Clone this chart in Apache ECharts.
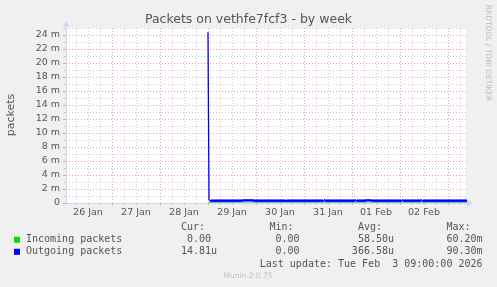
<!DOCTYPE html>
<html><head><meta charset="utf-8">
<script src="https://cdn.jsdelivr.net/npm/echarts@6/dist/echarts.min.js"></script>
<style>html,body{margin:0;padding:0;background:#F0F0F0;}#c{width:497px;height:287px;}</style>
</head><body><div id="c"></div>
<script>
// ---- data (hours measured from 26 Jan 00:00) ----
const titleText = 'Packets on vethfe7fcf3 - by week';
const yAxisName = 'packets';
const dayLabels = ['26 Jan', '27 Jan', '28 Jan', '29 Jan', '30 Jan', '31 Jan', '01 Feb', '02 Feb'];
const dayLabelHours = [12, 36, 60, 84, 108, 132, 156, 180];
const dayLineHours = [24, 48, 72, 96, 120, 144, 168, 192];
const minorLineHours = [6, 12, 18, 30, 36, 42, 54, 60, 66, 78, 84, 90, 102, 108, 114, 126, 132, 138, 150, 156, 162, 174, 180, 186, 198];
const yMajorTicks = [0, 2, 4, 6, 8, 10, 12, 14, 16, 18, 20, 22, 24];
const yMinorTicks = [1, 3, 5, 7, 9, 11, 13, 15, 17, 19, 21, 23, 25];
const xStartHour = 1;     // 26 Jan 01:00
const xEndHour = 201;     // 03 Feb 09:00
const yMax = 25;          // milli-packets
const sampleStartHour = 72;  // 29 Jan 00:00
const sampleStepHours = 0.5;

// values in milli packets/s
const outgoingValues = [24.4,
0.5,0.5,0.15,0.5,0.15,0.5,0.15,0.5,0.15,0.5,0.15,0.5,0.15,0.5,0.15,0.5,0.15,0.5,0.15,0.5,
0.15,0.5,0.15,0.5,0.15,0.5,0.15,0.5,0.15,0.5,0.15,0.5,0.15,0.5,0.2,0.55,0.2,0.55,0.2,0.55,
0.2,0.55,0.2,0.55,0.2,0.5,0.15,0.5,0.15,0.5,0.15,0.5,0.15,0.5,0.15,0.5,0.15,0.5,0.15,0.5,
0.15,0.5,0.15,0.5,0.15,0.5,0.15,0.5,0.15,0.5,0.15,0.5,0.15,0.5,0.15,0.5,0.15,0.45,0.15,0.5,
0.15,0.5,0.15,0.5,0.15,0.5,0.15,0.5,0.15,0.5,0.15,0.5,0.15,0.5,0.15,0.5,0.15,0.5,0.15,0.5,
0.15,0.5,0.15,0.5,0.15,0.5,0.15,0.5,0.15,0.5,0.15,0.5,0.15,0.5,0.15,0.15,0.5,0.15,0.5,0.15,
0.5,0.15,0.5,0.15,0.5,0.15,0.5,0.15,0.5,0.15,0.5,0.15,0.5,0.15,0.5,0.15,0.5,0.15,0.5,0.15,
0.5,0.15,0.5,0.15,0.5,0.15,0.5,0.5,0.15,0.5,0.15,0.5,0.15,0.5,0.15,0.5,0.15,0.55,0.2,0.55,
0.2,0.55,0.2,0.5,0.15,0.5,0.15,0.5,0.15,0.5,0.15,0.5,0.15,0.5,0.15,0.5,0.15,0.5,0.15,0.5,
0.15,0.5,0.15,0.5,0.15,0.5,0.15,0.5,0.15,0.5,0.15,0.5,0.15,0.15,0.5,0.15,0.5,0.15,0.5,0.15,
0.5,0.15,0.5,0.15,0.5,0.15,0.5,0.15,0.5,0.15,0.5,0.15,0.5,0.5,0.15,0.5,0.15,0.5,0.15,0.5,
0.15,0.5,0.15,0.5,0.15,0.5,0.15,0.5,0.15,0.5,0.15,0.5,0.15,0.5,0.15,0.5,0.15,0.5,0.15,0.5,
0.15,0.5,0.15,0.5,0.15,0.5,0.15,0.5,0.15,0.5,0.15,0.5,0.15,0.5,0.15,0.5,0.15,0.5,0.15];
const incomingValues = [
0,0,0,0,0,0,0,0,0,0,0,0,0,0,0,0,0,0,0,0,0,0,0,0,0,0,0,0,0,
0,0,0,0,0,0,0,0,0,0,0,0,0,0,0,0,0,0,0,0,0,0,0,0,0,0,0,0,0,
0,0,0,0,0,0,0,0,0,0,0,0,0,0,0,0,0,0,0,0,0,0,0,0,0,0,0,0,0,
0,0,0,0,0,0,0,0,0,0,0,0,0,0,0,0,0,0,0,0,0,0,0,0,0,0,0,0,0,
0,0,0,0,0,0,0,0,0,0,0,0,0,0,0,0,0,0,0,0,0,0,0,0,0,0,0,0,0,
0,0,0,0,0,0,0,0,0,0,0,0,0,0,0,0,0,0,0,0,0,0,0,0,0,0,0,0,0,
0,0,0,0,0,0,0,0,0,0,0,0,0,0,0,0,0,0,0,0,0,0,0,0,0,0,0,0,0,
0,0,0,0,0,0,0,0,0,0,0,0,0,0,0,0,0,0,0,0,0,0,0,0,0,0,0,0,0,
0,0,0,0,0,0,0,0,0,0,0,0,0,0,0,0,0,0,0,0,0,0,0,0,0,0,0,0];

const legendNames = ['Incoming packets', 'Outgoing packets'];
const legendColors = ['#00E000', '#0000FF'];
const statHeaders = ['Cur:', 'Min:', 'Avg:', 'Max:'];
const curValues = ['0.00', '14.81u'];
const minValues = ['0.00', '0.00'];
const avgValues = ['58.50u', '366.58u'];
const maxValues = ['60.20m', '90.30m'];
const lastUpdate = 'Last update: Tue Feb  3 09:00:00 2026';
const footerText = 'Munin 2.0.75';
const sideText = 'RRDTOOL / TOBI OETIKER';

// ---- build ----
const toPairs = vals => vals.map((v, i) => [sampleStartHour + i * sampleStepHours, v]);
const SANS = 'DejaVu Sans';
const MONO = 'DejaVu Sans Mono';
const TXT = '#555555';
const AXIS = '#CFD6F8';
const MGRID = 'rgba(240,120,120,0.75)';
const GRID = 'rgba(150,150,150,0.45)';

const baseX = {type: 'value', min: xStartHour, max: xEndHour, gridIndex: 0, position: 'bottom', offset: 0};
const baseY = {type: 'value', min: 0, max: yMax, gridIndex: 0, position: 'left', offset: 0};

const xAxes = [
  Object.assign({}, baseX, {
    z: 0, axisLine: {show: false}, axisLabel: {show: false},
    axisTick: {show: true, customValues: minorLineHours, length: 2, lineStyle: {color: GRID}},
    splitLine: {show: true, lineStyle: {color: GRID, type: [1, 2], width: 1}}
  }),
  Object.assign({}, baseX, {
    z: 1, axisLine: {show: false}, axisLabel: {show: false},
    axisTick: {show: true, customValues: dayLineHours, length: 2, lineStyle: {color: MGRID}},
    splitLine: {show: true, lineStyle: {color: MGRID, type: [1, 2], width: 1}}
  }),
  Object.assign({}, baseX, {
    z: 3,
    axisLine: {show: true, lineStyle: {color: AXIS, width: 1}, symbol: ['none', 'triangle'], symbolSize: [7, 6], symbolOffset: [0, 4]},
    axisTick: {show: false}, splitLine: {show: false},
    axisLabel: {show: true, customValues: dayLabelHours, margin: 5, color: TXT, fontFamily: SANS, fontSize: 9.5,
      formatter: v => dayLabels[dayLabelHours.indexOf(v)] || ''}
  })
];
const yAxes = [
  Object.assign({}, baseY, {
    z: 0, axisLine: {show: false}, axisLabel: {show: false},
    axisTick: {show: true, customValues: yMinorTicks, length: 2, lineStyle: {color: GRID}},
    splitLine: {show: true, lineStyle: {color: GRID, type: [1, 2], width: 1}}
  }),
  Object.assign({}, baseY, {
    z: 1, axisLine: {show: false}, axisLabel: {show: false},
    axisTick: {show: true, customValues: yMajorTicks, length: 3, lineStyle: {color: MGRID}},
    splitLine: {show: true, lineStyle: {color: MGRID, type: [1, 2], width: 1}}
  }),
  Object.assign({}, baseY, {
    z: 3,
    axisLine: {show: true, lineStyle: {color: AXIS, width: 1}, symbol: ['none', 'triangle'], symbolSize: [7, 6], symbolOffset: [0, 4]},
    axisTick: {show: false}, splitLine: {show: false},
    axisLabel: {show: true, customValues: yMajorTicks, margin: 6, color: TXT, fontFamily: SANS, fontSize: 9.5,
      formatter: v => v === 0 ? '0' : v + ' m'}
  })
];

const graphics = [];
graphics.push({type: 'text', x: 11, y: 115, rotation: Math.PI / 2,
  style: {text: yAxisName, font: '11px "' + SANS + '"', fill: TXT, align: 'center', verticalAlign: 'middle'}});
graphics.push({type: 'text', x: 488, y: 53, rotation: -Math.PI / 2,
  style: {text: sideText, font: '7.5px "' + SANS + '"', fill: '#BBBBBB', align: 'center', verticalAlign: 'middle'}});
const colRight = [217, 305.5, 394, 482.5];
const rowY = [239.8, 251.8];
const headerY = 227.2;
const monoFont = '10px "' + MONO + '"';
statHeaders.forEach((h, c) => graphics.push({type: 'text', x: colRight[c] - 12, y: headerY,
  style: {text: h, font: monoFont, fill: TXT, align: 'right', verticalAlign: 'middle'}}));
const cols = [curValues, minValues, avgValues, maxValues];
legendNames.forEach((name, r) => {
  graphics.push({type: 'rect', shape: {x: 14, y: rowY[r] - 3, width: 6, height: 6}, style: {fill: legendColors[r]}});
  graphics.push({type: 'text', x: 26, y: rowY[r], style: {text: name, font: monoFont, fill: TXT, align: 'left', verticalAlign: 'middle'}});
  cols.forEach((col, c) => {
    const s = col[r];
    const hasUnit = /[a-zA-Z]$/.test(s);
    graphics.push({type: 'text', x: hasUnit ? colRight[c] : colRight[c] - 6, y: rowY[r],
      style: {text: s, font: monoFont, fill: TXT, align: 'right', verticalAlign: 'middle'}});
  });
});
graphics.push({type: 'text', x: 482.5, y: 264, style: {text: lastUpdate, font: monoFont, fill: TXT, align: 'right', verticalAlign: 'middle'}});
graphics.push({type: 'text', x: 248, y: 276, style: {text: footerText, font: '7.5px "' + SANS + '"', fill: '#C0C0C0', align: 'center', verticalAlign: 'middle'}});

const chart = echarts.init(document.getElementById('c'), null, {renderer: 'canvas'});
chart.setOption({
  backgroundColor: '#F0F0F0',
  animation: false,
  title: {text: titleText, left: 'center', top: 13.5, padding: 0,
    textStyle: {fontFamily: SANS, fontSize: 12.5, fontWeight: 'normal', color: TXT}},
  grid: {left: 66, top: 28, width: 400, height: 175, show: true, backgroundColor: '#FFFFFF', borderWidth: 0},
  xAxis: xAxes,
  yAxis: yAxes,
  series: [
    {name: legendNames[0], type: 'line', xAxisIndex: 2, yAxisIndex: 2, data: toPairs(incomingValues),
      showSymbol: false, symbol: 'none', lineStyle: {color: legendColors[0], width: 1}, itemStyle: {color: legendColors[0]}, z: 2},
    {name: legendNames[1], type: 'line', xAxisIndex: 2, yAxisIndex: 2, data: toPairs(outgoingValues), step: 'end',
      showSymbol: false, symbol: 'none', lineStyle: {color: legendColors[1], width: 1.3}, itemStyle: {color: legendColors[1]}, z: 2}
  ],
  graphic: graphics
});
</script></body></html>
